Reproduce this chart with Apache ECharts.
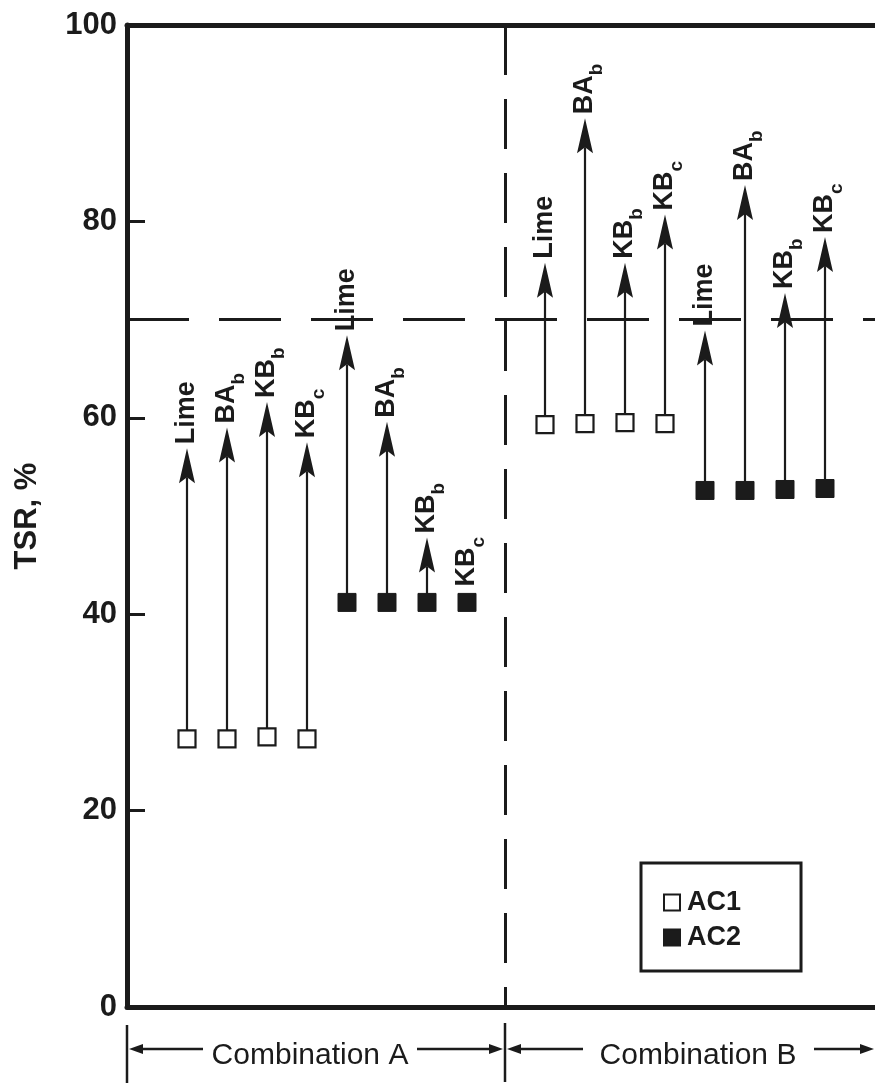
<!DOCTYPE html>
<html><head><meta charset="utf-8">
<script src="https://cdn.jsdelivr.net/npm/echarts@6/dist/echarts.min.js"></script>
<style>html,body{margin:0;padding:0;background:#fff}#c{width:875px;height:1087px}</style>
</head><body><div id="c"></div>
<script>
// ---- data ----
const treatments = ['Lime', 'BA', 'KB', 'KB'];
const treatmentSubs = ['', 'b', 'b', 'c'];
const groupNames = ['Combination A', 'Combination B'];
const seriesNames = ['AC1', 'AC2'];
const yTicks = [0, 20, 40, 60, 80, 100];
const targetTSR = 70;
// TSR before (marker) and after treatment (arrow tip), %
const groupA_AC1_before = [27.3, 27.3, 27.5, 27.3];
const groupA_AC1_after  = [56.9, 59.0, 61.6, 57.5];
const groupA_AC2_before = [41.2, 41.2, 41.2, 41.2];
const groupA_AC2_after  = [68.4, 59.6, 47.8, 41.2];
const groupB_AC1_before = [59.3, 59.4, 59.5, 59.4];
const groupB_AC1_after  = [75.8, 90.5, 75.8, 80.7];
const groupB_AC2_before = [52.6, 52.6, 52.7, 52.8];
const groupB_AC2_after  = [68.9, 83.7, 72.7, 78.4];

// ---- layout (slots along x) ----
const groupStart = [1.5, 10.45];
const dividerX = 9.45;
const xMax = 18.7;

const groups = [
  [[groupA_AC1_before, groupA_AC1_after], [groupA_AC2_before, groupA_AC2_after]],
  [[groupB_AC1_before, groupB_AC1_after], [groupB_AC2_before, groupB_AC2_after]]
];
const markers = [[], []];
const arrows = [];
groups.forEach((g, gi) => {
  g.forEach((s, si) => {
    s[0].forEach((b, ti) => {
      const x = groupStart[gi] + si * 4 + ti;
      markers[si].push([x, b]);
      arrows.push([x, b, s[1][ti], ti]);
    });
  });
});

const ink = '#1b1b1b';
const font = 'Liberation Sans';

const chart = echarts.init(document.getElementById('c'));
chart.setOption({
  backgroundColor: '#fff',
  animation: false,
  textStyle: { fontFamily: font },
  grid: { left: 127, right: 0, top: 25, bottom: 80 },
  xAxis: [
    { type: 'value', min: 0, max: xMax, position: 'bottom',
      axisLine: { show: true, onZero: false, lineStyle: { color: ink, width: 5 } },
      axisTick: { show: false }, axisLabel: { show: false }, splitLine: { show: false } },
    { type: 'value', min: 0, max: xMax, position: 'top',
      axisLine: { show: true, onZero: false, lineStyle: { color: ink, width: 5 } },
      axisTick: { show: false }, axisLabel: { show: false }, splitLine: { show: false } }
  ],
  yAxis: {
    type: 'value', min: yTicks[0], max: yTicks[yTicks.length - 1], interval: 20,
    name: 'TSR, %', nameLocation: 'middle', nameGap: 84, nameRotate: 90,
    nameTextStyle: { fontSize: 31, fontWeight: 'bold', color: ink, fontFamily: font },
    axisLine: { show: true, lineStyle: { color: ink, width: 5 } },
    axisTick: { show: true, inside: true, length: 18, lineStyle: { color: ink, width: 3 } },
    axisLabel: { fontSize: 31, fontWeight: 'bold', color: ink, margin: 10, fontFamily: font },
    splitLine: { show: false }
  },
  legend: {
    left: 641, top: 863, orient: 'vertical',
    data: [{ name: seriesNames[0], icon: 'rect' }, { name: seriesNames[1], icon: 'rect' }],
    itemWidth: 16, itemHeight: 16, itemGap: 8,
    padding: [26, 60, 20, 22],
    borderColor: ink, borderWidth: 3,
    textStyle: { fontSize: 27, fontWeight: 'bold', color: ink, fontFamily: font, padding: [0, 0, 0, 2] }
  },
  series: [
    {
      type: 'custom', name: 'arrows', z: 3, silent: true,
      data: arrows,
      renderItem: function (params, api) {
        const x = api.value(0), before = api.value(1), after = api.value(2), ti = api.value(3);
        const p0 = api.coord([x, before]);
        const p1 = api.coord([x, after]);
        const children = [];
        let labelY;
        if (after > before + 0.5) {
          const headLen = 35, headW = 8;
          children.push({ type: 'line', shape: { x1: p0[0], y1: p0[1] - 8, x2: p1[0], y2: p1[1] + headLen - 6 },
            style: { stroke: ink, lineWidth: 2.2 } });
          children.push({ type: 'polygon', shape: { points: [
              [p1[0], p1[1]], [p1[0] - headW, p1[1] + headLen], [p1[0], p1[1] + headLen - 6], [p1[0] + headW, p1[1] + headLen]] },
            style: { fill: ink } });
          labelY = p1[1] - 4;
        } else {
          labelY = p0[1] - 16;
        }
        const sub = treatmentSubs[ti];
        children.push({
          type: 'text', x: p1[0], y: labelY, rotation: Math.PI / 2,
          style: {
            text: '{m|' + treatments[ti] + '}' + (sub ? '{s|' + sub + '}' : ''),
            align: 'left', verticalAlign: 'middle',
            fill: ink,
            rich: {
              m: { fontSize: 27, fontWeight: 'bold', fontFamily: font, fill: ink, color: ink },
              s: { fontSize: 19, fontWeight: 'bold', fontFamily: font, fill: ink, color: ink, padding: [24, 0, 0, 0] }
            }
          }
        });
        return { type: 'group', children: children };
      }
    },
    {
      type: 'scatter', name: seriesNames[0], z: 4, data: markers[0],
      symbol: 'rect', symbolSize: 17,
      itemStyle: { color: '#fff', borderColor: ink, borderWidth: 2.2, opacity: 1 },
      markLine: {
        silent: true, symbol: 'none', label: { show: false },
        lineStyle: { color: ink, width: 3, type: [62, 30], opacity: 1 },
        data: [
          { yAxis: targetTSR },
          { xAxis: dividerX, lineStyle: { type: [50, 24], dashOffset: 30, width: 3 } }
        ]
      }
    },
    {
      type: 'scatter', name: seriesNames[1], z: 4, data: markers[1],
      symbol: 'rect', symbolSize: 18,
      itemStyle: { color: ink, borderColor: ink, borderWidth: 1, opacity: 1 }
    }
  ],
  graphic: [
    { type: 'line', shape: { x1: 127, y1: 1025, x2: 127, y2: 1083 }, style: { stroke: ink, lineWidth: 2.5 } },
    { type: 'line', shape: { x1: 505, y1: 1023, x2: 505, y2: 1082 }, style: { stroke: ink, lineWidth: 2.5 } },
    // Combination A bracket
    { type: 'line', shape: { x1: 135, y1: 1049, x2: 203, y2: 1049 }, style: { stroke: ink, lineWidth: 2.5 } },
    { type: 'polygon', shape: { points: [[129, 1049], [143, 1044], [143, 1054]] }, style: { fill: ink } },
    { type: 'line', shape: { x1: 417, y1: 1049, x2: 495, y2: 1049 }, style: { stroke: ink, lineWidth: 2.5 } },
    { type: 'polygon', shape: { points: [[503, 1049], [489, 1044], [489, 1054]] }, style: { fill: ink } },
    { type: 'text', x: 310, y: 1056, style: { text: groupNames[0], fontSize: 30, fontFamily: font, fill: ink, align: 'center', verticalAlign: 'middle' } },
    // Combination B bracket
    { type: 'line', shape: { x1: 514, y1: 1049, x2: 583, y2: 1049 }, style: { stroke: ink, lineWidth: 2.5 } },
    { type: 'polygon', shape: { points: [[507, 1049], [521, 1044], [521, 1054]] }, style: { fill: ink } },
    { type: 'line', shape: { x1: 814, y1: 1049, x2: 866, y2: 1049 }, style: { stroke: ink, lineWidth: 2.5 } },
    { type: 'polygon', shape: { points: [[874, 1049], [860, 1044], [860, 1054]] }, style: { fill: ink } },
    { type: 'text', x: 698, y: 1056, style: { text: groupNames[1], fontSize: 30, fontFamily: font, fill: ink, align: 'center', verticalAlign: 'middle' } }
  ]
});
</script></body></html>
